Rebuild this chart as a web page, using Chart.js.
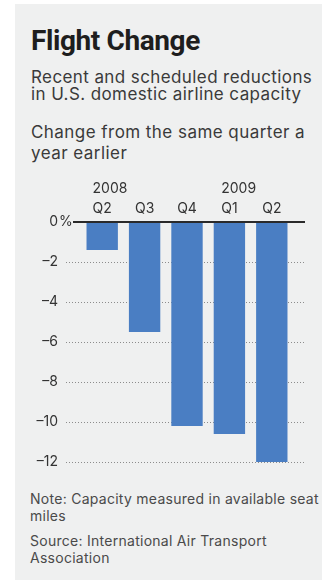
<!DOCTYPE html>
<html>
<head>
<meta charset="utf-8">
<script src="https://cdn.jsdelivr.net/npm/chart.js@4.4.1/dist/chart.umd.min.js"></script>
<style>
  html, body { margin: 0; padding: 0; background: #ffffff; }
  body { width: 322px; height: 582px; position: relative; overflow: hidden; }
  #panel { position: absolute; left: 15px; top: 4px; width: 307px; height: 576px; background: #eff0f0; }
  .t { position: absolute; left: 31px; white-space: nowrap; font-family: Inter, "Open Sans", sans-serif; }
  #title { top: 27.4px; font-family: Roboto, sans-serif; font-weight: 700; font-size: 28px; line-height: 28px; letter-spacing: -0.4px; color: #1e1e1e; }
  #sub { top: 68.5px; font-size: 17px; line-height: 17.5px; letter-spacing: 0.4px; color: #3a3a3a; }
  #unit { top: 121.6px; font-size: 17px; line-height: 21.5px; letter-spacing: 0.45px; color: #3a3a3a; }
  #note { top: 489.7px; left: 30px; font-size: 14px; line-height: 17.5px; letter-spacing: 0.27px; color: #4a4a4a; }
  #source { top: 531.9px; left: 30px; font-size: 14px; line-height: 17.5px; letter-spacing: 0.27px; color: #4a4a4a; }
  #wrap { position: absolute; left: 0; top: 0; width: 322px; height: 582px; }
</style>
</head>
<body>
<div id="panel"></div>
<div class="t" id="title">Flight Change</div>
<div class="t" id="sub">Recent and scheduled reductions<br>in U.S. domestic airline capacity</div>
<div class="t" id="unit">Change from the same quarter a<br>year earlier</div>
<div class="t" id="note">Note: Capacity measured in available seat<br>miles</div>
<div class="t" id="source">Source: International Air Transport<br>Association</div>
<div id="wrap"><canvas id="c"></canvas></div>
<script>
// ---- data ----
const quarters = ['Q2', 'Q3', 'Q4', 'Q1', 'Q2'];
const years = ['2008', '', '', '2009', ''];
const capacityChange = [-1.4, -5.5, -10.2, -10.6, -12.0];
const yTicks = [0, -2, -4, -6, -8, -10, -12];
const yTickLabels = ['0', '\u20132', '\u20134', '\u20136', '\u20138', '\u201310', '\u201312'];

const labelFont = '14px Inter, "Open Sans", sans-serif';

const decor = {
  id: 'decor',
  beforeDatasetsDraw(chart) {
    const { ctx, chartArea: a, scales: { y } } = chart;
    ctx.save();
    ctx.strokeStyle = '#8c8c8c';
    ctx.lineWidth = 1;
    ctx.setLineDash([1, 2]);
    yTicks.forEach(v => {
      if (v === 0) return;
      const py = Math.round(y.getPixelForValue(v)) + 0.5;
      ctx.beginPath();
      ctx.moveTo(a.left - 15, py);
      ctx.lineTo(a.right + 12, py);
      ctx.stroke();
    });
    ctx.setLineDash([]);
    ctx.font = labelFont;
    ctx.fillStyle = '#333333';
    ctx.textBaseline = 'middle';
    yTicks.forEach((v, i) => {
      const py = y.getPixelForValue(v);
      ctx.textAlign = 'right';
      ctx.fillText(yTickLabels[i], a.left - 23, py);
      if (v === 0) {
        ctx.textAlign = 'left';
        ctx.fillText('%', a.left - 22, py);
      }
    });
    ctx.restore();
  },
  afterDatasetsDraw(chart) {
    const { ctx, chartArea: a, scales: { x, y } } = chart;
    ctx.save();
    const py = y.getPixelForValue(0);
    ctx.strokeStyle = '#2a2a2a';
    ctx.lineWidth = 2;
    ctx.beginPath();
    ctx.moveTo(a.left - 8, py);
    ctx.lineTo(a.right + 12, py);
    ctx.stroke();
    ctx.font = labelFont;
    ctx.fillStyle = '#333333';
    ctx.textAlign = 'left';
    ctx.textBaseline = 'alphabetic';
    years.forEach((yr, i) => {
      if (!yr) return;
      const cx = x.getPixelForTick(i);
      const w = ctx.measureText(quarters[i]).width;
      ctx.fillText(yr, cx - w / 2, a.top - 29);
    });
    ctx.restore();
  }
};

new Chart(document.getElementById('c'), {
  type: 'bar',
  data: {
    labels: quarters,
    datasets: [{
      data: capacityChange,
      backgroundColor: '#4a7ec3',
      borderWidth: 0,
      barPercentage: 0.74,
      categoryPercentage: 1.0
    }]
  },
  options: {
    responsive: true,
    maintainAspectRatio: false,
    animation: false,
    devicePixelRatio: 1,
    layout: { padding: { left: 0, right: 29, top: 0, bottom: 120 } },
    plugins: { legend: { display: false }, tooltip: { enabled: false }, title: { display: false } },
    scales: {
      x: {
        type: 'category',
        position: 'top',
        offset: true,
        grid: { display: false, drawTicks: false },
        border: { display: false },
        ticks: { color: '#333333', font: { family: 'Inter, "Open Sans", sans-serif', size: 14 }, padding: 5, maxRotation: 0 },
        afterFit(s) { s.height = 222; }
      },
      y: {
        min: -12,
        max: 0,
        grid: { display: false, drawTicks: false },
        border: { display: false },
        ticks: { display: false },
        afterBuildTicks(s) { s.ticks = yTicks.map(v => ({ value: v })); },
        afterFit(s) { s.width = 81; }
      }
    }
  },
  plugins: [decor]
});
</script>
</body>
</html>
